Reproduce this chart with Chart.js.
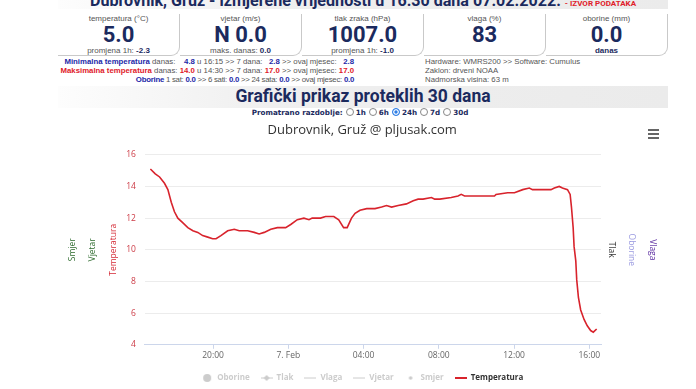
<!DOCTYPE html>
<html><head><meta charset="utf-8">
<script src="https://cdn.jsdelivr.net/npm/chart.js@4.4.0/dist/chart.umd.min.js"></script>
<style>
html,body{margin:0;padding:0;background:#fff;}
body{width:696px;height:389px;position:relative;overflow:hidden;font-family:"Liberation Sans",Arial,sans-serif;}
.band{position:absolute;left:58px;width:610px;background:linear-gradient(to right,#fdfdfd,#efefef 35%,#ebebeb);}
.box{position:absolute;top:14px;width:121px;height:41px;border-right:1px solid #c9c9c9;border-bottom:1px solid #c9c9c9;border-bottom-right-radius:9px;}
.lbl{position:absolute;left:0;right:0;text-align:center;font-size:8px;color:#555;line-height:10px;white-space:nowrap;}
.val{position:absolute;left:0;right:0;top:8px;text-align:center;font:bold 22px Roboto;color:#1b2a5e;line-height:26px;}
.nv{color:#1b2a5e;font-weight:bold}
.bl{color:#2328a8;font-weight:bold}
.rd{color:#e0202a;font-weight:bold}
.rows{position:absolute;font-size:7.8px;line-height:9px;color:#555;white-space:nowrap;}
.radio{display:inline-block;width:6px;height:6px;border:1px solid #888;border-radius:50%;vertical-align:-1px;margin:0 2px 0 3px;background:#fff;}
.radio.on{background:#2f7fe6;border-color:#2f7fe6;box-shadow:inset 0 0 0 1.3px #fff;}
.ham{position:absolute;left:648px;width:11px;height:2px;background:#666;}
</style></head>
<body>
<div class="band" style="top:0;height:9px"></div>
<div style="position:absolute;left:58px;width:610px;top:-8px;text-align:center;font:bold 16.1px Roboto;line-height:17px;color:#1b2a5e;white-space:nowrap">Dubrovnik, Gruž - izmjerene vrijednosti u 16:30 dana 07.02.2022. <span style="color:#e0202a;font-size:8px">- IZVOR PODATAKA</span></div>

<div class="box" style="left:58px"><div class="lbl" style="top:0">temperatura (°C)</div><div class="val">5.0</div><div class="lbl" style="top:32px">promjena 1h: <span class="nv">-2.3</span></div></div>
<div class="box" style="left:180px"><div class="lbl" style="top:0">vjetar (m/s)</div><div class="val">N 0.0</div><div class="lbl" style="top:32px">maks. danas: <span class="nv">0.0</span></div></div>
<div class="box" style="left:302px"><div class="lbl" style="top:0">tlak zraka (hPa)</div><div class="val">1007.0</div><div class="lbl" style="top:32px">promjena 1h: <span class="nv">-1.0</span></div></div>
<div class="box" style="left:424px"><div class="lbl" style="top:0">vlaga (%)</div><div class="val">83</div></div>
<div class="box" style="left:546px"><div class="lbl" style="top:0">oborine (mm)</div><div class="val">0.0</div><div class="lbl" style="top:32px"><span class="nv">danas</span></div></div>

<div class="rows" style="left:0;width:354px;top:57px;text-align:right">
<div><span class="bl">Minimalna temperatura</span> danas: &nbsp;&nbsp;&nbsp;<span class="bl">4.8</span> u 16:15 &gt;&gt; 7 dana: &nbsp;&nbsp;<span class="bl">2.8</span> &gt;&gt; ovaj mjesec: &nbsp;&nbsp;<span class="bl">2.8</span></div>
<div><span class="rd">Maksimalna temperatura</span> danas: <span class="rd">14.0</span> u 14:30 &gt;&gt; 7 dana: <span class="rd">17.0</span> &gt;&gt; ovaj mjesec: <span class="rd">17.0</span></div>
<div style="letter-spacing:-0.25px"><span class="bl">Oborine</span> 1 sat: <span class="bl">0.0</span> &gt;&gt; 6 sati: <span class="bl">0.0</span> &gt;&gt; 24 sata: <span class="bl">0.0</span> &gt;&gt; ovaj mjesec: <span class="bl">0.0</span></div>
</div>
<div class="rows" style="left:425px;top:57px">
<div>Hardware: WMRS200 &gt;&gt; Software: Cumulus</div>
<div>Zaklon: drveni NOAA</div>
<div>Nadmorska visina: 63 m</div>
</div>

<div class="band" style="top:86px;height:22px"></div>
<div style="position:absolute;left:58px;width:610px;top:86px;text-align:center;font:bold 17.5px Roboto;line-height:21px;color:#1b2a5e;white-space:nowrap">Grafički prikaz proteklih 30 dana</div>
<div style="position:absolute;left:58px;width:604px;top:108px;text-align:center;font:bold 7.2px 'DejaVu Sans';line-height:10px;color:#1b2a5e;white-space:nowrap">Promatrano razdoblje:<span class="radio"></span>1h<span class="radio"></span>6h<span class="radio on"></span>24h<span class="radio"></span>7d<span class="radio"></span>30d</div>

<div style="position:absolute;left:0;top:118px;width:696px;height:274px"><canvas id="c" width="696" height="274"></canvas></div>
<div class="ham" style="top:129px"></div><div class="ham" style="top:133px"></div><div class="ham" style="top:137px"></div>

<script>
// hours relative to midnight 7. Feb 2022 (negative = 6. Feb)
const hours = [-7.33,-7.07,-6.84,-6.58,-6.40,-6.22,-6.05,-5.87,-5.60,-5.34,-5.07,-4.81,-4.55,-4.28,-4.02,-3.84,-3.58,-3.22,-2.87,-2.61,-2.16,-1.81,-1.55,-1.28,-0.93,-0.58,-0.14,0.13,0.48,0.83,1.10,1.27,1.71,1.98,2.42,2.68,2.94,3.13,3.36,3.55,3.81,4.17,4.61,4.96,5.22,5.49,5.84,6.28,6.64,6.90,7.16,7.61,7.78,8.05,8.66,9.02,9.19,9.37,9.90,10.60,10.96,11.04,11.66,12.02,12.46,12.81,12.98,13.43,13.96,14.14,14.40,14.57,14.84,14.98,15.05,15.14,15.19,15.28,15.33,15.42,15.54,15.72,15.89,16.07,16.21,16.39];
const temps = [15.1,14.8,14.6,14.2,13.8,13.0,12.4,12.0,11.7,11.4,11.2,11.1,10.9,10.8,10.7,10.7,10.9,11.2,11.3,11.2,11.2,11.1,11.0,11.1,11.3,11.4,11.4,11.6,11.9,12.0,11.9,12.0,12.0,12.1,12.1,11.9,11.4,11.4,12.0,12.3,12.5,12.6,12.6,12.7,12.8,12.7,12.8,12.9,13.1,13.2,13.2,13.3,13.2,13.2,13.3,13.4,13.5,13.4,13.4,13.4,13.4,13.5,13.6,13.6,13.8,13.9,13.8,13.8,13.8,13.9,14.0,13.9,13.8,13.5,12.7,11.4,10.2,9.3,8.1,7.0,6.2,5.6,5.2,4.9,4.8,5.0];
const xTickHours = [-4,0,4,8,12,16];
const xTickLabels = ['20:00','7. Feb','04:00','08:00','12:00','16:00'];
const yTicks = [4,6,8,10,12,14,16];
const legendNames = ['Oborine','Tlak','Vlaga','Vjetar','Smjer','Temperatura'];

const RED = '#d8232c';
function sym(kind, color){
  const c = document.createElement('canvas'); c.width = 12; c.height = 10;
  const g = c.getContext('2d'); g.fillStyle = color; g.strokeStyle = color;
  if (kind==='circle'){ g.beginPath(); g.arc(6,5,4,0,Math.PI*2); g.fill(); }
  else if (kind==='dot'){ g.beginPath(); g.arc(6,5,1.8,0,Math.PI*2); g.fill(); }
  else { g.lineWidth = kind==='thick'?2:1; g.beginPath(); g.moveTo(0,5); g.lineTo(12,5); g.stroke();
    if (kind==='diamond'){ g.beginPath(); g.moveTo(6,2); g.lineTo(9,5); g.lineTo(6,8); g.lineTo(3,5); g.closePath(); g.fill(); } }
  return c;
}
const GRAY = '#cccccc';
const symbols = [sym('circle',GRAY), sym('diamond',GRAY), sym('line',GRAY), sym('line',GRAY), sym('dot',GRAY), sym('thick',RED)];

const FONT = 'Open Sans';
const titleAxis = (text, color, position, weight) => ({
  type:'linear', position, weight, display:true,
  grid:{display:false, drawTicks:false}, border:{display:false}, ticks:{display:false},
  title:{display:true, text, color, font:{family:FONT, size:8.5}, padding:{top:5,bottom:5.3}}
});

new Chart(document.getElementById('c'), {
  type:'line',
  data:{ datasets:[{
    label:'Temperatura', yAxisID:'y',
    data: hours.map((h,i)=>({x:h, y:temps[i]})),
    borderColor:RED, borderWidth:1.6, pointRadius:0, tension:0, fill:false
  }]},
  options:{
    responsive:false, animation:false, events:[],
    layout:{padding:{left:62, right:33.5, top:0, bottom:0}},
    plugins:{
      tooltip:{enabled:false},
      title:{display:true, text:'Dubrovnik, Gruž @ pljusak.com', color:'#333333',
        font:{family:FONT, size:13, weight:'normal'}, padding:{top:4.5, bottom:16.7}},
      legend:{position:'bottom', onClick:null,
        labels:{usePointStyle:true, pointStyleWidth:12, boxHeight:8, padding:11,
          font:{family:FONT, size:8, weight:'bold'},
          generateLabels:()=>legendNames.map((n,i)=>({text:n, fontColor: i===5?'#333333':GRAY,
            pointStyle:symbols[i], hidden:false, lineWidth:0, strokeStyle:'rgba(0,0,0,0)', fillStyle:'rgba(0,0,0,0)'}))}}
    },
    scales:{
      x:{type:'linear', min:-7.62, max:16.62,
        afterBuildTicks:(s)=>{ s.ticks = xTickHours.map(v=>({value:v})); },
        ticks:{autoSkip:false, maxRotation:0, padding:2, color:'#666666', font:{family:FONT, size:8.5},
          callback:(v)=>xTickLabels[xTickHours.indexOf(v)]},
        grid:{drawOnChartArea:false, drawTicks:true, tickLength:4, color:'#ccd6eb'},
        border:{display:true, color:'#ccd6eb'}
      },
      y:{type:'linear', position:'left', weight:0, min:4, max:16,
        afterBuildTicks:(s)=>{ s.ticks = yTicks.map(v=>({value:v})); },
        ticks:{padding:9, color:'#cc3a45', font:{family:FONT, size:8.5}},
        grid:{color:'#ececec', drawTicks:false}, border:{display:false},
        title:{display:true, text:'Temperatura', color:'#d42a35', font:{family:FONT, size:8.5}, padding:{top:5,bottom:-1}}
      },
      yVjetar: titleAxis('Vjetar', '#2e6b2e', 'left', 1),
      ySmjer: titleAxis('Smjer', '#2e6b2e', 'left', 2),
      yTlak: titleAxis('Tlak', '#333333', 'right', 0),
      yOborine: titleAxis('Oborine', '#9a9ae0', 'right', 1),
      yVlaga: titleAxis('Vlaga', '#5b2ca0', 'right', 2)
    }
  }
});
</script>
</body></html>
